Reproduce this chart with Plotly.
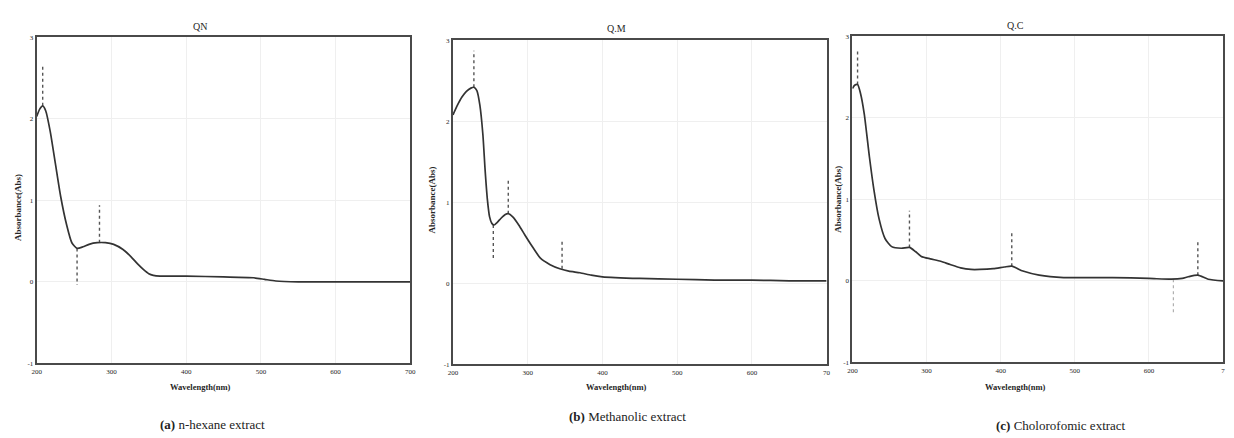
import plotly.graph_objects as go

# ---------------- data ----------------
panel_titles = ["QN", "Q.M", "Q.C"]
captions_bold = ["(a)", "(b)", "(c)"]
captions_text = [" n-hexane extract", " Methanolic extract", " Cholorofomic extract"]
x_tick_vals = [200, 300, 400, 500, 600, 700]
x_tick_text_a = ["200", "300", "400", "500", "600", "700"]
x_tick_text_b = ["200", "300", "400", "500", "600", "70"]
x_tick_text_c = ["200", "300", "400", "500", "600", "7"]
y_tick_vals = [-1, 0, 1, 2, 3]
y_tick_text = ["-1", "0", "1", "2", "3"]

# (a) n-hexane extract
wl_a = [200, 204, 208, 212, 218, 225, 232, 240, 247, 254, 262, 270, 281, 292, 303, 315,
        326, 335, 343, 350, 356, 365, 380, 400, 450, 490, 505, 520, 550, 600, 650, 700]
abs_a = [2.03, 2.12, 2.16, 2.10, 1.85, 1.45, 1.05, 0.70, 0.48, 0.41, 0.43, 0.46, 0.48, 0.48, 0.46, 0.40,
         0.31, 0.22, 0.15, 0.10, 0.08, 0.07, 0.07, 0.07, 0.06, 0.05, 0.03, 0.01, 0.00, 0.00, 0.00, 0.00]
mark_a_wl = [208, 254, 284]
mark_a_from = [2.16, 0.41, 0.48]
mark_a_to = [2.67, -0.04, 0.94]

# (b) methanolic extract
wl_b = [200, 206, 212, 218, 224, 228, 232, 236, 240, 243, 246, 249, 252, 255, 259, 264, 270, 274,
        280, 288, 296, 305, 317, 330, 343, 355, 370, 385, 400, 450, 500, 550, 600, 650, 700]
abs_b = [2.08, 2.20, 2.30, 2.37, 2.41, 2.42, 2.38, 2.20, 1.84, 1.40, 1.04, 0.82, 0.74, 0.72, 0.75, 0.80, 0.85, 0.86,
         0.82, 0.72, 0.60, 0.47, 0.31, 0.23, 0.18, 0.15, 0.13, 0.10, 0.08, 0.06, 0.05, 0.04, 0.04, 0.03, 0.03]
mark_b_wl = [228, 254, 274, 346]
mark_b_from = [2.42, 0.72, 0.86, 0.18]
mark_b_to = [2.87, 0.28, 1.30, 0.54]

# (c) chloroformic extract
wl_c = [200, 203, 207, 211, 216, 223, 229, 236, 244, 253, 266, 277, 285, 293, 305, 319, 332, 346,
        360, 372, 390, 405, 415, 430, 452, 485, 520, 551, 600, 630, 645, 653, 666, 680, 700]
abs_c = [2.36, 2.40, 2.41, 2.30, 2.05, 1.52, 1.12, 0.76, 0.52, 0.42, 0.40, 0.41, 0.36, 0.30, 0.27, 0.24, 0.20, 0.16,
         0.14, 0.14, 0.15, 0.17, 0.18, 0.12, 0.07, 0.04, 0.04, 0.04, 0.03, 0.02, 0.03, 0.05, 0.07, 0.02, 0.00]
mark_c_wl = [207, 277, 415, 666]
mark_c_from = [2.41, 0.41, 0.18, 0.07]
mark_c_to = [2.84, 0.86, 0.60, 0.50]
mark_c_min_wl = [633]
mark_c_min_from = [0.02]
mark_c_min_to = [-0.41]

# ---------------- layout helpers ----------------
W, H = 1234, 438
def fx(p):
    return p / W
def fy(p):
    return 1 - p / H

# panel boxes in pixels: (left, right, top, bottom)
boxes = [(32, 409, 34, 366), (452, 829, 37, 367), (855, 1229, 33, 365)]
title_x = [197, 617, 1020]
title_y = [23, 25, 22]
xlabel_x = [197, 617, 1020]
ylabel_x = [13, 431, 841]
ylabel_y = [207, 200, 199]
caption_x = [209, 628, 1066]
caption_y = [428, 420, 429]

SERIF = "Liberation Serif, Times New Roman, serif"
TXT = "#262626"
fig = go.Figure()

datasets = [
    (wl_a, abs_a, mark_a_wl, mark_a_from, mark_a_to, x_tick_text_a),
    (wl_b, abs_b, mark_b_wl, mark_b_from, mark_b_to, x_tick_text_b),
    (wl_c, abs_c, mark_c_wl, mark_c_from, mark_c_to, x_tick_text_c),
]

def seg(wls, y0s, y1s):
    xs, ys = [], []
    for w, a, b in zip(wls, y0s, y1s):
        xs += [w, w, None]
        ys += [a, b, None]
    return xs, ys

for i, (wl, ab, mw, mf, mt, xtt) in enumerate(datasets):
    xa = "x" if i == 0 else f"x{i+1}"
    ya = "y" if i == 0 else f"y{i+1}"
    mx, my = seg(mw, mf, mt)
    fig.add_trace(go.Scatter(x=mx, y=my, mode="lines", xaxis=xa, yaxis=ya,
                             line=dict(color="#555555", width=1.4, dash="dot"),
                             hoverinfo="skip", showlegend=False))
    if i == 2:
        nx, ny = seg(mark_c_min_wl, mark_c_min_from, mark_c_min_to)
        fig.add_trace(go.Scatter(x=nx, y=ny, mode="lines", xaxis=xa, yaxis=ya,
                                 line=dict(color="#b0b0b0", width=1.2, dash="dot"),
                                 hoverinfo="skip", showlegend=False))
    fig.add_trace(go.Scatter(x=wl, y=ab, mode="lines", xaxis=xa, yaxis=ya,
                             line=dict(color="#333333", width=1.7, shape="spline", smoothing=0.6),
                             showlegend=False))

    l, r, t, b = boxes[i]
    axis_common = dict(showline=True, mirror=True, linecolor="#4a4a4a", linewidth=2,
                       showgrid=True, gridcolor="#efefef", gridwidth=1, zeroline=False,
                       ticks="", tickfont=dict(family=SERIF, size=7, color=TXT))
    xkey = "xaxis" if i == 0 else f"xaxis{i+1}"
    ykey = "yaxis" if i == 0 else f"yaxis{i+1}"
    fig.update_layout(**{
        xkey: dict(domain=[fx(l), fx(r)], range=[200, 700], anchor=ya,
                   tickmode="array", tickvals=x_tick_vals, ticktext=xtt,
                   **axis_common),
        ykey: dict(domain=[fy(b), fy(t)], range=[-1, 3], anchor=xa,
                   tickmode="array", tickvals=y_tick_vals, ticktext=y_tick_text,
                   **axis_common),
    })

annotations = []
def ann(text, px, py, size, angle=0, color=TXT):
    return dict(text=text, x=fx(px), y=fy(py), xref="paper", yref="paper",
                xanchor="center", yanchor="middle", showarrow=False, textangle=angle,
                font=dict(family=SERIF, size=size, color=color))

for i in range(3):
    annotations.append(ann(panel_titles[i], title_x[i], title_y[i], 10))
    annotations.append(ann("<b>Wavelength(nm)</b>", xlabel_x[i], 390, 8.5))
    annotations.append(ann("<b>Absorbance(Abs)</b>", ylabel_x[i], ylabel_y[i], 9, angle=-90))
    annotations.append(ann(f"<b>{captions_bold[i]}</b>{captions_text[i]}",
                           caption_x[i], caption_y[i], 13, color="#222222"))

fig.update_layout(width=W, height=H, margin=dict(l=0, r=0, t=0, b=0),
                  paper_bgcolor="white", plot_bgcolor="white",
                  annotations=annotations, showlegend=False)

fig.write_html("out.html", config={"displayModeBar": False},
               post_script="document.body.style.margin='0';document.body.style.overflow='hidden';")
